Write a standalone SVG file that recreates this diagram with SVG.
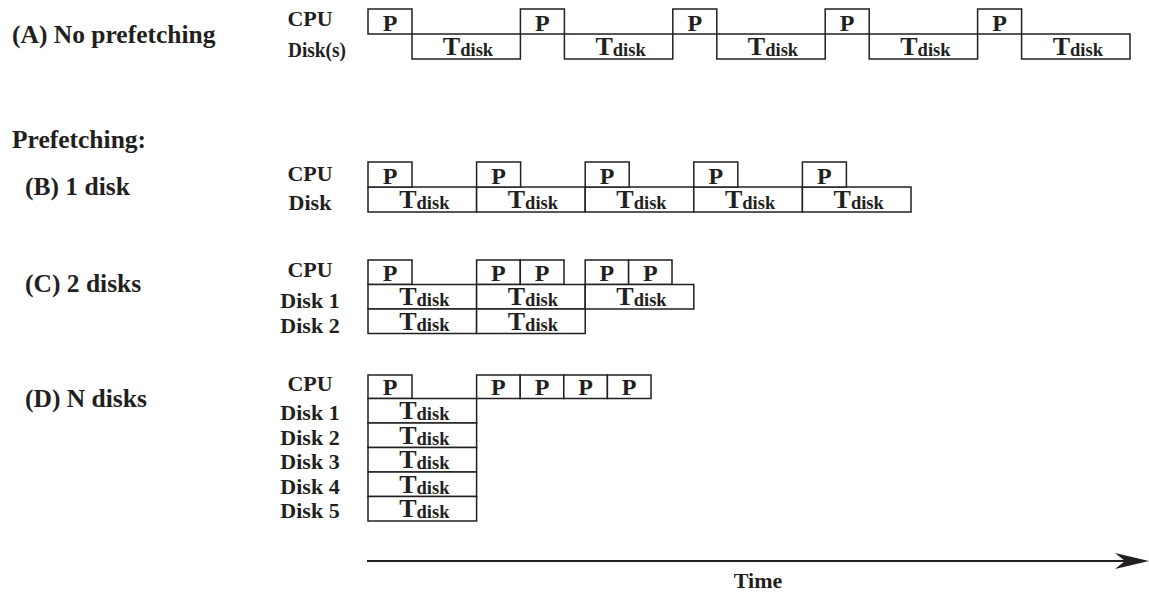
<svg xmlns="http://www.w3.org/2000/svg" width="1149" height="595" viewBox="0 0 1149 595">
<style>
text { font-family: "Liberation Serif", "Times New Roman", serif; font-weight: bold; fill: #231f20; }
.box { fill: #fff; stroke: #231f20; stroke-width: 1.5; }
.lbl { font-size: 25.5px; }
.row { font-size: 22px; text-anchor: middle; }
.p { font-size: 24px; text-anchor: middle; }
.t { font-size: 26px; text-anchor: middle; }
.sub { font-size: 18.5px; }
.axis { stroke: #231f20; stroke-width: 2; fill: none; }
</style>
<rect width="1149" height="595" fill="#fff"/>

<g id="labels">
<text class="lbl" x="12" y="43">(A) No prefetching</text>
<text class="lbl" x="12" y="148">Prefetching:</text>
<text class="lbl" x="25" y="195">(B) 1 disk</text>
<text class="lbl" x="25" y="292">(C) 2 disks</text>
<text class="lbl" x="25" y="407">(D) N disks</text>
</g>

<g id="rowA">
<text class="row" x="310" y="26">CPU</text>
<text class="row" x="288" y="57" style="text-anchor:start" textLength="58" lengthAdjust="spacingAndGlyphs">Disk(s)</text>
<g id="A-p1"><rect class="box" x="368" y="9" width="44" height="25"/><text class="p" x="390" y="30.5">P</text></g>
<g id="A-d1"><rect class="box" x="412" y="34" width="108.4" height="25"/><text class="t" x="468" y="55">T<tspan class="sub" dy="1">disk</tspan></text></g>
<g id="A-p2"><rect class="box" x="520.4" y="9" width="44" height="25"/><text class="p" x="542.4" y="30.5">P</text></g>
<g id="A-d2"><rect class="box" x="564.4" y="34" width="108.4" height="25"/><text class="t" x="620.6" y="55">T<tspan class="sub" dy="1">disk</tspan></text></g>
<g id="A-p3"><rect class="box" x="672.8" y="9" width="44" height="25"/><text class="p" x="694.8" y="30.5">P</text></g>
<g id="A-d3"><rect class="box" x="716.8" y="34" width="108.4" height="25"/><text class="t" x="773" y="55">T<tspan class="sub" dy="1">disk</tspan></text></g>
<g id="A-p4"><rect class="box" x="825.2" y="9" width="44" height="25"/><text class="p" x="847.2" y="30.5">P</text></g>
<g id="A-d4"><rect class="box" x="869.2" y="34" width="108.4" height="25"/><text class="t" x="925.4" y="55">T<tspan class="sub" dy="1">disk</tspan></text></g>
<g id="A-p5"><rect class="box" x="977.6" y="9" width="44" height="25"/><text class="p" x="999.6" y="30.5">P</text></g>
<g id="A-d5"><rect class="box" x="1021.6" y="34" width="108.4" height="25"/><text class="t" x="1077.8" y="55">T<tspan class="sub" dy="1">disk</tspan></text></g>
</g>

<g id="rowB">
<text class="row" x="310" y="181">CPU</text>
<text class="row" x="310" y="210">Disk</text>
<g id="B-d1"><rect class="box" x="368" y="187" width="108.6" height="25"/><text class="t" x="424.3" y="208">T<tspan class="sub" dy="1">disk</tspan></text></g>
<g id="B-d2"><rect class="box" x="476.6" y="187" width="108.6" height="25"/><text class="t" x="532.9" y="208">T<tspan class="sub" dy="1">disk</tspan></text></g>
<g id="B-d3"><rect class="box" x="585.2" y="187" width="108.6" height="25"/><text class="t" x="641.5" y="208">T<tspan class="sub" dy="1">disk</tspan></text></g>
<g id="B-d4"><rect class="box" x="693.8" y="187" width="108.6" height="25"/><text class="t" x="750.1" y="208">T<tspan class="sub" dy="1">disk</tspan></text></g>
<g id="B-d5"><rect class="box" x="802.4" y="187" width="108.6" height="25"/><text class="t" x="858.7" y="208">T<tspan class="sub" dy="1">disk</tspan></text></g>
<g id="B-p1"><rect class="box" x="368" y="162" width="44" height="25"/><text class="p" x="390" y="183.5">P</text></g>
<g id="B-p2"><rect class="box" x="476.6" y="162" width="44" height="25"/><text class="p" x="498.6" y="183.5">P</text></g>
<g id="B-p3"><rect class="box" x="585.2" y="162" width="44" height="25"/><text class="p" x="607.2" y="183.5">P</text></g>
<g id="B-p4"><rect class="box" x="693.8" y="162" width="44" height="25"/><text class="p" x="715.8" y="183.5">P</text></g>
<g id="B-p5"><rect class="box" x="802.4" y="162" width="44" height="25"/><text class="p" x="824.4" y="183.5">P</text></g>
</g>

<g id="rowC">
<text class="row" x="310" y="277">CPU</text>
<text class="row" x="310" y="308">Disk 1</text>
<text class="row" x="310" y="333">Disk 2</text>
<g id="C-p1"><rect class="box" x="368" y="260" width="44" height="24.5"/><text class="p" x="390" y="281">P</text></g>
<g id="C-p2"><rect class="box" x="476.6" y="260" width="43.7" height="24.5"/><text class="p" x="498.4" y="281">P</text></g>
<g id="C-p3"><rect class="box" x="520.3" y="260" width="43.7" height="24.5"/><text class="p" x="542.1" y="281">P</text></g>
<g id="C-p4"><rect class="box" x="585.2" y="260" width="43.4" height="24.5"/><text class="p" x="606.9" y="281">P</text></g>
<g id="C-p5"><rect class="box" x="628.6" y="260" width="43.4" height="24.5"/><text class="p" x="650.3" y="281">P</text></g>
<g id="C-d1a"><rect class="box" x="368" y="284.5" width="108.6" height="24.5"/><text class="t" x="424.3" y="305">T<tspan class="sub" dy="1">disk</tspan></text></g>
<g id="C-d1b"><rect class="box" x="476.6" y="284.5" width="108.6" height="24.5"/><text class="t" x="532.9" y="305">T<tspan class="sub" dy="1">disk</tspan></text></g>
<g id="C-d1c"><rect class="box" x="585.2" y="284.5" width="108.6" height="24.5"/><text class="t" x="641.5" y="305">T<tspan class="sub" dy="1">disk</tspan></text></g>
<g id="C-d2a"><rect class="box" x="368" y="309" width="108.6" height="24.5"/><text class="t" x="424.3" y="329.5">T<tspan class="sub" dy="1">disk</tspan></text></g>
<g id="C-d2b"><rect class="box" x="476.6" y="309" width="108.6" height="24.5"/><text class="t" x="532.9" y="329.5">T<tspan class="sub" dy="1">disk</tspan></text></g>
</g>

<g id="rowD">
<text class="row" x="310" y="391">CPU</text>
<text class="row" x="310" y="420">Disk 1</text>
<text class="row" x="310" y="444.5">Disk 2</text>
<text class="row" x="310" y="469">Disk 3</text>
<text class="row" x="310" y="493.5">Disk 4</text>
<text class="row" x="310" y="518">Disk 5</text>
<g id="D-p1"><rect class="box" x="368" y="375" width="44" height="23.5"/><text class="p" x="390" y="395">P</text></g>
<g id="D-p2"><rect class="box" x="476.6" y="375" width="43.6" height="23.5"/><text class="p" x="498.4" y="395">P</text></g>
<g id="D-p3"><rect class="box" x="520.2" y="375" width="43.6" height="23.5"/><text class="p" x="542" y="395">P</text></g>
<g id="D-p4"><rect class="box" x="563.8" y="375" width="43.6" height="23.5"/><text class="p" x="585.6" y="395">P</text></g>
<g id="D-p5"><rect class="box" x="607.4" y="375" width="43.6" height="23.5"/><text class="p" x="629.2" y="395">P</text></g>
<g id="D-d1"><rect class="box" x="368" y="398.5" width="108.6" height="24.5"/><text class="t" x="424.3" y="419">T<tspan class="sub" dy="1">disk</tspan></text></g>
<g id="D-d2"><rect class="box" x="368" y="423" width="108.6" height="24.5"/><text class="t" x="424.3" y="443.5">T<tspan class="sub" dy="1">disk</tspan></text></g>
<g id="D-d3"><rect class="box" x="368" y="447.5" width="108.6" height="24.5"/><text class="t" x="424.3" y="468">T<tspan class="sub" dy="1">disk</tspan></text></g>
<g id="D-d4"><rect class="box" x="368" y="472" width="108.6" height="24.5"/><text class="t" x="424.3" y="492.5">T<tspan class="sub" dy="1">disk</tspan></text></g>
<g id="D-d5"><rect class="box" x="368" y="496.5" width="108.6" height="24.5"/><text class="t" x="424.3" y="517">T<tspan class="sub" dy="1">disk</tspan></text></g>
</g>

<g id="connectors">
<line class="axis" x1="367" y1="561" x2="1128" y2="561"/>
<path d="M1149,561 L1115,553 L1125,561 L1115,569 Z" fill="#231f20"/>
</g>
<g id="time-label">
<text class="row" x="758" y="588">Time</text>
</g>
</svg>
